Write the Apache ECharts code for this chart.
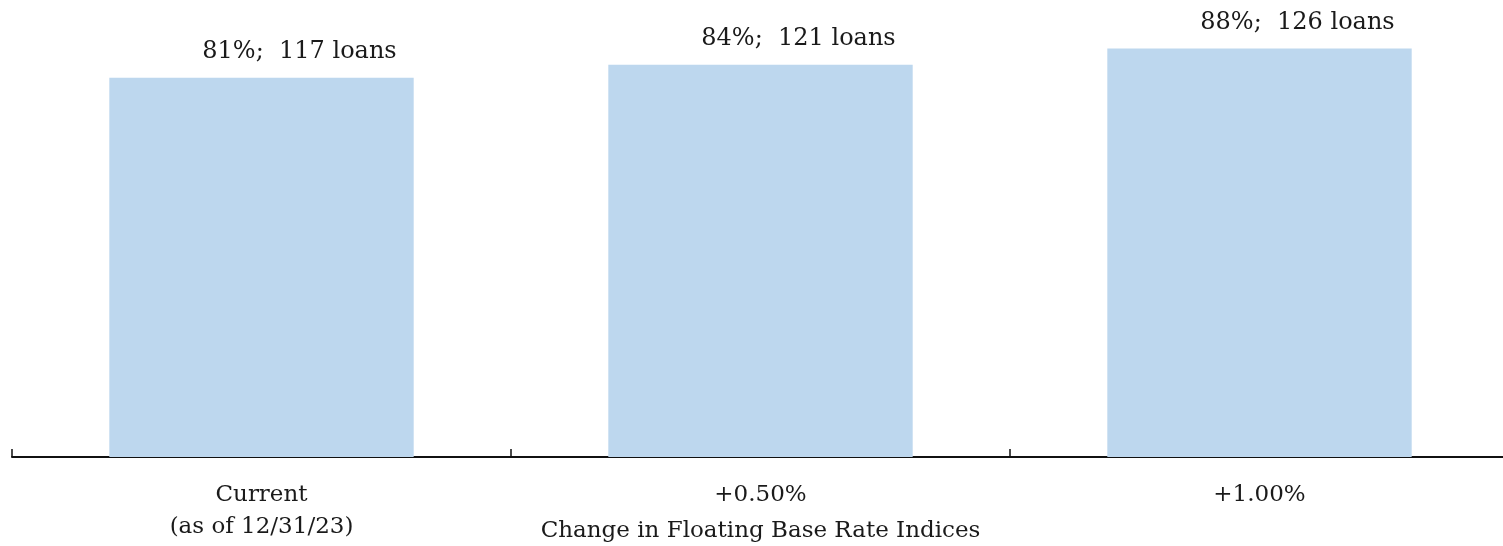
<!DOCTYPE html>
<html>
<head>
<meta charset="utf-8">
<script src="https://cdn.jsdelivr.net/npm/echarts@6/dist/echarts.min.js"></script>
<style>
  html, body { margin: 0; padding: 0; background: #ffffff; }
  #chart { width: 1503px; height: 546px; }
</style>
</head>
<body>
<div id="chart"></div>
<script>
// Scenario categories on the x axis
const categories = ['Current\n(as of 12/31/23)', '+0.50%', '+1.00%'];
// Number of loans in each scenario (bar heights)
const loanCounts = [117, 121, 126];
// Share of loans, shown in the bar labels
const percentShares = [81, 84, 88];
const axisTitle = 'Change in Floating Base Rate Indices';

const serif = '"DejaVu Serif", "Liberation Serif", serif';

const chart = echarts.init(document.getElementById('chart'));
chart.setOption({
  animation: false,
  backgroundColor: '#ffffff',
  grid: { left: 12, right: -6, top: 0, bottom: 89, containLabel: false, outerBoundsMode: 'none' },
  xAxis: {
    type: 'category',
    data: categories,
    name: axisTitle,
    nameLocation: 'middle',
    nameGap: 63,
    nameMoveOverlap: false,
    nameTextStyle: { fontFamily: serif, fontSize: 23, color: '#1a1a1a' },
    axisLine: { show: true, lineStyle: { color: '#111111', width: 2 } },
    axisTick: { show: true, inside: true, length: 8, lineStyle: { color: '#111111', width: 1.5 } },
    axisLabel: {
      fontFamily: serif, fontSize: 23, color: '#1a1a1a',
      lineHeight: 32, margin: 22, interval: 0
    }
  },
  yAxis: {
    type: 'value',
    min: 0,
    max: 141,
    show: false,
    splitLine: { show: false }
  },
  series: [{
    type: 'bar',
    data: loanCounts,
    barWidth: '61%',
    itemStyle: { color: '#BDD7EE' },
    label: {
      show: true,
      position: 'top',
      distance: 14,
      offset: [38, 0],
      fontFamily: serif,
      fontSize: 24,
      color: '#1a1a1a',
      formatter: p => percentShares[p.dataIndex] + '%;  ' + loanCounts[p.dataIndex] + ' loans'
    }
  }]
});
</script>
</body>
</html>
